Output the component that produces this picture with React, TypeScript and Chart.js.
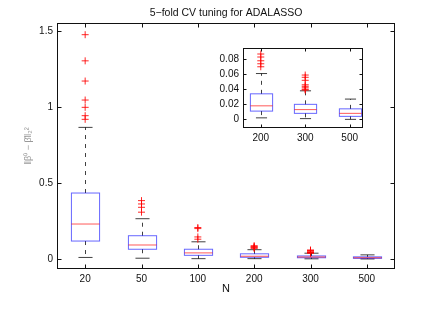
import { useEffect, useRef } from 'react';
import { Chart, registerables } from 'chart.js';
Chart.register(...registerables);

const FONT = '"Liberation Sans", Arial, Helvetica, sans-serif';

// ---- data ----
const categories = ['20', '50', '100', '200', '300', '500'];
const q1 = [0.118, 0.064, 0.024, 0.011, 0.008, 0.004];
const median = [0.23, 0.092, 0.04, 0.018, 0.013, 0.008];
const q3 = [0.434, 0.153, 0.064, 0.034, 0.02, 0.014];
const whiskerLow = [0.01, 0.005, 0.002, 0.002, 0.001, 0.0];
const whiskerHigh = [0.866, 0.265, 0.113, 0.061, 0.038, 0.027];
const outliers = [
  [1.476, 1.304, 1.171, 1.046, 0.998, 0.943, 0.919],
  [0.384, 0.362, 0.34, 0.308],
  [0.207, 0.2, 0.145, 0.13],
  [0.087, 0.083, 0.078, 0.074, 0.07],
  [0.059, 0.056, 0.052, 0.046, 0.044, 0.042, 0.04, 0.039],
  [],
];
const insetIdx = [3, 4, 5];
const mainIdx = [0, 1, 2, 3, 4, 5];
const mainYTicks = [0, 0.5, 1, 1.5];
const insetYTicks = [0, 0.02, 0.04, 0.06, 0.08];
const titleText = '5\u2212fold CV tuning for ADALASSO';
const xTitle = 'N';
const yTitle = '\u2016\u03B2\u2070 \u2212 \u03B2\u0302\u2016\u2082\u00B2';

function boxPlugin(idx: number[], tickLen: number, extras?: (chart: any) => void) {
  return {
    id: 'boxes',
    beforeDatasetsDraw(chart: any) {
      const { ctx, chartArea } = chart;
      const x = chart.scales.x;
      const y = chart.scales.y;
      ctx.save();
      ctx.fillStyle = '#fff';
      ctx.fillRect(chartArea.left, chartArea.top, chartArea.right - chartArea.left, chartArea.bottom - chartArea.top);
      const halfW = x.getPixelForValue(0.25) - x.getPixelForValue(0);
      const capW = halfW / 2;
      const line = (x1: number, y1: number, x2: number, y2: number) => {
        ctx.beginPath();
        ctx.moveTo(x1, y1);
        ctx.lineTo(x2, y2);
        ctx.stroke();
      };
      idx.forEach((k, j) => {
        const cx = Math.round(x.getPixelForValue(j)) + 0.5;
        const p1 = y.getPixelForValue(q1[k]);
        const p3 = y.getPixelForValue(q3[k]);
        const pm = y.getPixelForValue(median[k]);
        const pl = y.getPixelForValue(whiskerLow[k]);
        const ph = y.getPixelForValue(whiskerHigh[k]);
        ctx.lineWidth = 1;
        ctx.strokeStyle = 'rgba(0,0,0,0.75)';
        ctx.setLineDash([4, 5]);
        line(cx, p3, cx, ph);
        line(cx, p1, cx, pl);
        ctx.setLineDash([]);
        line(cx - capW, ph, cx + capW, ph);
        line(cx - capW, pl, cx + capW, pl);
        ctx.strokeStyle = 'rgba(0,0,255,0.6)';
        ctx.strokeRect(cx - halfW, p3, 2 * halfW, p1 - p3);
        ctx.strokeStyle = 'rgba(255,0,0,0.65)';
        line(cx - halfW, pm, cx + halfW, pm);
      });
      ctx.restore();
    },
    afterDraw(chart: any) {
      const { ctx, chartArea } = chart;
      const x = chart.scales.x;
      const y = chart.scales.y;
      const L = Math.round(chartArea.left) + 0.5;
      const R = Math.round(chartArea.right) - 0.5;
      const T = Math.round(chartArea.top) + 0.5;
      const B = Math.round(chartArea.bottom) - 0.5;
      ctx.save();
      ctx.strokeStyle = '#111';
      ctx.lineWidth = 1;
      ctx.strokeRect(L, T, R - L, B - T);
      ctx.beginPath();
      x.ticks.forEach((t: any) => {
        const px = Math.round(x.getPixelForValue(t.value)) + 0.5;
        ctx.moveTo(px, B);
        ctx.lineTo(px, B - tickLen);
        ctx.moveTo(px, T);
        ctx.lineTo(px, T + tickLen);
      });
      y.ticks.forEach((t: any) => {
        const py = Math.round(y.getPixelForValue(t.value)) + 0.5;
        ctx.moveTo(L, py);
        ctx.lineTo(L + tickLen, py);
        ctx.moveTo(R, py);
        ctx.lineTo(R - tickLen, py);
      });
      ctx.stroke();
      if (extras) extras(chart);
      ctx.restore();
    },
  };
}

function outlierData(idx: number[]) {
  const pts: { x: number; y: number }[] = [];
  idx.forEach((k, j) => outliers[k].forEach((v) => pts.push({ x: j, y: v })));
  return pts;
}

function makeOptions(xmin: number, xmax: number, ymin: number, ymax: number, yTicks: number[], idx: number[], yW: number, xH: number, padding: any) {
  return {
    responsive: false,
    animation: false as const,
    layout: { padding },
    plugins: { legend: { display: false }, tooltip: { enabled: false }, title: { display: false } },
    scales: {
      x: {
        type: 'linear' as const,
        min: xmin,
        max: xmax,
        afterBuildTicks: (s: any) => {
          s.ticks = idx.map((_, j) => ({ value: j }));
        },
        ticks: {
          callback: (v: any) => categories[idx[Math.round(v)]] ?? '',
          padding: 4,
          color: '#111',
          font: { size: 10, family: FONT },
          autoSkip: false,
          maxRotation: 0,
        },
        grid: { display: false, drawTicks: false },
        border: { display: false },
        afterFit: (s: any) => {
          s.height = xH;
        },
      },
      y: {
        type: 'linear' as const,
        min: ymin,
        max: ymax,
        afterBuildTicks: (s: any) => {
          s.ticks = yTicks.map((v) => ({ value: v }));
        },
        ticks: {
          callback: (v: any) => String(Math.round(v * 1000) / 1000),
          padding: 4,
          color: '#111',
          font: { size: 10, family: FONT },
        },
        grid: { display: false, drawTicks: false },
        border: { display: false },
        afterFit: (s: any) => {
          s.width = yW;
        },
      },
    },
  };
}

const scatterDataset = (idx: number[]) => ({
  data: outlierData(idx),
  pointStyle: 'cross' as const,
  radius: 3.5,
  borderColor: 'rgba(255,0,0,0.85)',
  backgroundColor: 'rgba(255,0,0,0.85)',
  borderWidth: 1,
  showLine: false,
});

export default function App() {
  const mainRef = useRef<HTMLCanvasElement>(null);
  const insetRef = useRef<HTMLCanvasElement>(null);

  useEffect(() => {
    const mainExtras = (chart: any) => {
      const { ctx, chartArea } = chart;
      const cx = (chartArea.left + chartArea.right) / 2;
      ctx.fillStyle = '#111';
      ctx.textAlign = 'center';
      ctx.textBaseline = 'middle';
      ctx.font = `10.5px ${FONT}`;
      ctx.fillText(titleText, cx, 13);
      ctx.font = `11px ${FONT}`;
      ctx.fillText(xTitle, cx, 289);
      ctx.save();
      ctx.translate(29, (chartArea.top + chartArea.bottom) / 2);
      ctx.rotate(-Math.PI / 2);
      ctx.fillStyle = '#999';
      ctx.font = `9px ${FONT}`;
      ctx.fillText(yTitle, 0, 0);
      ctx.restore();
    };
    const main = new Chart(mainRef.current!, {
      type: 'scatter',
      data: { datasets: [scatterDataset(mainIdx)] },
      options: makeOptions(-0.5, 5.5, -0.066, 1.553, mainYTicks, mainIdx, 57, 51, { top: 23, right: 41, left: 0, bottom: 0 }) as any,
      plugins: [boxPlugin(mainIdx, 4, mainExtras)],
    });
    const inset = new Chart(insetRef.current!, {
      type: 'scatter',
      data: { datasets: [scatterDataset(insetIdx)] },
      options: makeOptions(-0.4, 2.3, -0.0115, 0.095, insetYTicks, insetIdx, 43, 22, { top: 7, right: 7, left: 0, bottom: 0 }) as any,
      plugins: [boxPlugin(insetIdx, 3)],
    });
    return () => {
      main.destroy();
      inset.destroy();
    };
  }, []);

  return (
    <div style={{ position: 'absolute', left: 0, top: 0, width: 436, height: 320, background: '#fff' }}>
      <canvas ref={mainRef} width={436} height={320} style={{ position: 'absolute', left: 0, top: 0, display: 'block' }} />
      <canvas ref={insetRef} width={170} height={112} style={{ position: 'absolute', left: 200, top: 38, display: 'block' }} />
    </div>
  );
}
